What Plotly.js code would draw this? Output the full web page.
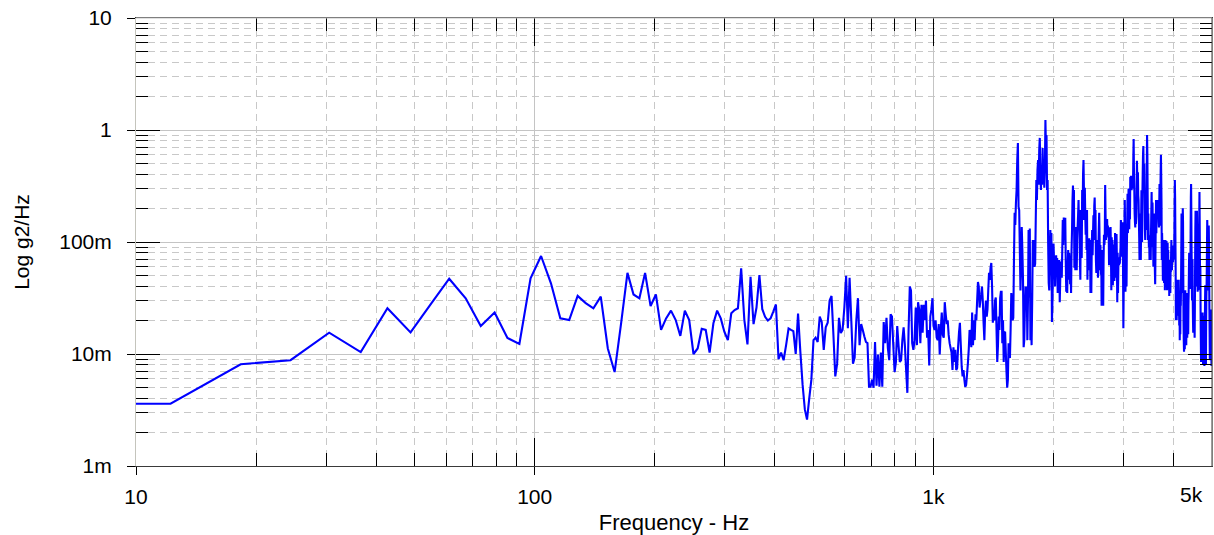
<!DOCTYPE html>
<html>
<head>
<meta charset="utf-8">
<script src="https://cdn.plot.ly/plotly-3.0.1.min.js"></script>
<style>
html,body{margin:0;padding:0;background:#ffffff;}
#chart{width:1214px;height:535px;}
</style>
</head>
<body>
<div id="chart"></div>
<script>
// Spectral bin width (Hz); spectrum values are in milli-g2/Hz (m units)
const binHz = 6.1035;

// bins 1..164 (about 6 Hz .. 1 kHz)
const psdLow = [
  3.6, 3.6, 8.1, 8.8, 15.5, 10.4, 25.6, 15.6, 28, 47,
  31.4, 17.8, 23.5, 13.9, 12.3, 47.4, 75, 42.8, 20.8, 20.1,
  33, 28.5, 25.6, 32.5, 11.2, 6.9, 19, 53, 34, 31.4,
  53, 26.8, 34, 16.4, 20.8, 24.4, 20.1, 14.5, 24.4, 20.1,
  10.0, 11.2, 16.8, 16.4, 10.3, 18.8, 24.4, 20.8, 15.8, 13.3,
  23.1, 24.7, 25.6, 58.2, 20.1, 12.2, 49, 18.5, 26, 50.7,
  25.1, 21.5, 19.9, 20.8, 23.9, 27.7, 9.0, 10.3, 8.8, 12,
  16.9, 16.4, 16, 10.0, 23, 10.5, 5.3, 3.2, 2.6, 4.0,
  5.9, 13.3, 14, 12.8, 21.6, 19.3, 10.9, 17.3, 19, 30,
  33, 14.8, 6.3, 8.2, 21, 15.4, 16.4, 26, 50, 17,
  48, 20, 8.2, 9.3, 20, 31.5, 12, 18.5, 16.4, 14.3,
  12.8, 12.5, 5.1, 5.1, 5.9, 5.0, 12.8, 5.2, 9.9, 5.1,
  10.3, 5.1, 19.3, 12.5, 21, 11.3, 8.8, 22.6, 21.6, 12,
  6.9, 8.5, 17.8, 12, 8.5, 8.8, 13.3, 17.3, 12, 7.2,
  4.5, 16.4, 40, 37, 12.5, 10.9, 13.3, 26, 12, 29,
  25, 12.5, 27.5, 15.5, 27.5, 20, 30, 14, 16.4, 7.9,
  21.6, 25, 31.5, 17.8
];

// bins 165..441 (about 1 kHz .. 2.7 kHz)
const psdMid = [
  16.4, 20, 14, 13.3, 18.5, 9.9, 16.4, 23.5, 14.8, 14,
  29, 22.6, 18.5, 20, 14.8, 12.5, 11.3, 10.3, 7.2, 11.5,
  8.5, 10.9, 7.2, 7.5, 11.5, 15.5, 19, 12, 7.7, 6.3,
  7.2, 5.9, 5.1, 5.3, 6.5, 8.2, 10.9, 16.4, 14.8, 11.5,
  23.5, 12, 20, 13.3, 22.6, 20, 30, 44, 40, 26,
  30, 34, 40, 30, 19, 13.3, 23.5, 30, 21.6, 25,
  37, 53, 46, 59, 65, 40, 19, 23.5, 20, 30,
  32, 16.4, 8.5, 12, 21.6, 16.4, 31.5, 36,
  36, 12.5, 20, 8.5, 15.5, 15.8, 10.3, 6.9, 5.0, 5.9,
  12.5, 11.3, 9.2, 16.4, 35, 30, 20, 21, 69, 182,
  142, 224, 291, 540, 765, 207, 193, 85, 37, 62,
  136, 85, 46, 11.5, 13.3, 25, 40, 30, 40, 13.3,
  30, 128, 32, 132, 13.3, 20, 12, 30, 104, 69,
  104, 60, 64, 157, 358, 237, 440, 540, 325, 663,
  850, 400, 291, 490, 325, 690, 400, 540, 305, 440,
  1228, 663, 900, 291, 358, 97, 43, 37,
  69, 128, 85, 120, 19.3, 30, 56, 97, 69, 72,
  40, 62, 76, 51, 72, 35, 46, 37, 69, 29,
  46, 67, 60, 48, 85, 157, 94, 165, 104, 142,
  165, 69, 36, 56, 35, 60, 85, 46, 80, 69,
  42, 56, 35, 85, 128, 237, 320, 157, 291, 59,
  94, 56, 85, 136, 56, 104, 136, 173, 237, 128,
  193, 69, 46, 193, 104, 72, 291, 157, 400, 540,
  291, 157, 305, 173, 116, 193, 85, 193, 46, 108,
  69, 104, 108, 56, 104, 35, 56, 35, 85, 128,
  76, 116, 173, 104, 210, 250, 142, 193, 69, 53,
  104, 62, 90, 48, 85, 128, 182, 104, 56, 94,
  51, 85, 27, 51, 85, 37, 27, 69, 116, 94,
  108
];

// bins 442..826 (about 2.7 kHz .. 5 kHz)
const psdHigh = [
  323, 174, 104,
  150, 128, 160, 118, 140, 110,
  135, 62, 125, 70, 90,
  136, 80, 37, 110, 60,
  104, 41, 75, 50, 95, 45,
  52, 120, 70, 48, 115,
  118, 65, 29, 80, 35, 60,
  73, 62, 70, 64, 75,
  90, 157, 85, 110, 74, 150,
  120, 60, 17, 40, 95, 140,
  237, 130, 36, 60, 110,
  40, 90, 150, 270, 120, 200,
  300, 180, 130, 250, 160, 380,
  300, 390, 330, 290, 360, 310,
  350, 300, 560, 830, 420, 290,
  180, 150, 135, 200, 145, 170,
  300, 530, 380, 240, 420, 260,
  237, 160, 110, 69, 140, 85, 180,
  69, 150, 290, 200, 100, 260,
  400, 600, 720, 450, 300, 500,
  250, 130, 104, 160, 220, 128, 180,
  400, 900, 600, 250, 104, 180,
  128, 90, 104, 69, 115, 80, 100,
  69, 120, 190, 280, 160, 90,
  225, 140, 100, 60, 130, 75, 180,
  110, 55, 42, 80, 150, 237, 120,
  237, 180, 200, 220, 175, 237, 190,
  150, 135, 210, 330, 250, 140, 280,
  420, 600, 380, 220, 69, 120, 90,
  69, 45, 85, 104, 60, 43, 75,
  95, 37, 60, 104, 80, 50, 100,
  100, 60, 37, 75, 98, 45, 85, 55,
  40, 69, 33, 55, 48, 65, 35,
  60, 54, 80, 104, 70, 56, 90, 85,
  90, 66, 75, 93, 70, 82, 100,
  200, 358, 250, 120, 60, 20, 35, 28,
  20, 30, 46, 24, 38, 22, 33, 41,
  46, 28, 18, 35, 13.3, 22, 15, 30,
  27, 40, 80, 180, 120, 60, 35,
  100, 200, 150, 50, 20, 13, 10.5, 18, 30,
  11, 20, 37, 25, 14, 30, 12, 22,
  35, 20, 14, 26, 18, 34, 15, 28,
  36, 55, 80, 45, 60, 38, 70, 50,
  120, 250, 330, 180, 90, 50, 30, 45, 70,
  30, 20, 15.5, 25, 18, 28, 16, 22,
  14, 25, 60, 130, 190, 100, 45, 70, 40,
  90, 190, 120, 60, 36, 50, 80, 37, 55,
  40, 90, 160, 280, 150, 70, 38, 60,
  24, 14, 8.5, 12, 20, 10, 16, 9, 23,
  23, 13, 8, 17, 11, 22, 9.5, 15, 7.8,
  10, 18, 30, 41, 25, 14, 8, 20, 33,
  40, 60, 100, 157, 120, 75, 50, 37, 65, 90,
  140, 100, 45, 25, 15, 9, 12, 20, 8.8,
  15, 25, 18, 10, 7.8, 14, 22, 9, 12,
  8, 20, 9, 15, 7.5
];

// Axis ticks and labels
const xTickVals = [10, 100, 1000];
const xTickText = ['10', '100', '1k'];
const xEndLabel = '5k';
const xMinorVals = [20, 30, 40, 50, 60, 70, 80, 90, 200, 300, 400, 500, 600, 700, 800, 900, 2000, 3000, 4000];
const yTickVals = [1, 10, 100, 1000, 10000];
const yTickText = ['1m', '10m', '100m', '1', '10'];
const yMinorVals = [2, 3, 4, 5, 6, 7, 8, 9, 20, 30, 40, 50, 60, 70, 80, 90,
  200, 300, 400, 500, 600, 700, 800, 900, 2000, 3000, 4000, 5000, 6000, 7000, 8000, 9000];
const xTitle = 'Frequency - Hz';
const yTitle = 'Log g2/Hz';
const xMin = 10, xMax = 5000;
const yMin = 1, yMax = 10000;

const psd = psdLow.concat(psdMid, psdHigh);
const freq = psd.map((_, i) => (i + 1) * binHz);

const fontFamily = 'Arial, "Liberation Sans", sans-serif';
const tickFont = {family: fontFamily, size: 21, color: '#000000'};
const xRange = [Math.log10(xMin), Math.log10(xMax)];
const yRange = [Math.log10(yMin), Math.log10(yMax)];

const traces = [
  {
    type: 'scatter', mode: 'lines', x: freq, y: psd,
    line: {color: '#0000ff', width: 2.1, simplify: false},
    hoverinfo: 'x+y', showlegend: false
  },
  {
    type: 'scatter', mode: 'lines', x: [], y: [], xaxis: 'x2', yaxis: 'y2',
    hoverinfo: 'skip', showlegend: false
  }
];

const layout = {
  width: 1214, height: 535,
  margin: {l: 136, r: 2, t: 18, b: 69, pad: 0},
  paper_bgcolor: '#ffffff', plot_bgcolor: '#ffffff',
  showlegend: false,
  font: tickFont,
  xaxis: {
    type: 'log', range: xRange, autorange: false,
    tickmode: 'array', tickvals: xTickVals, ticktext: xTickText,
    ticks: 'inside', ticklen: 28, tickwidth: 1, tickcolor: '#000000',
    ticklabelstandoff: 12,
    showline: true, linecolor: '#3a3a3a', linewidth: 1, mirror: 'ticks',
    showgrid: true, gridcolor: '#c4c4c4', gridwidth: 1,
    zeroline: false,
    minor: {tickmode: 'array', tickvals: xMinorVals, ticks: 'inside', ticklen: 13,
            tickwidth: 1, tickcolor: '#000000', showgrid: true,
            gridcolor: '#c8c8c8', gridwidth: 1, griddash: '7px,5px'},
    tickfont: tickFont,
    title: {text: xTitle, font: {family: fontFamily, size: 22, color: '#000000'}, standoff: 7}
  },
  yaxis: {
    type: 'log', range: yRange, autorange: false,
    tickmode: 'array', tickvals: yTickVals, ticktext: yTickText,
    ticks: 'inside', ticklen: 24, tickwidth: 1, tickcolor: '#000000',
    ticklabelstandoff: 19,
    showline: true, linecolor: '#c4c4bc', linewidth: 1, mirror: 'ticks',
    showgrid: true, gridcolor: '#c4c4c4', gridwidth: 1,
    zeroline: false,
    minor: {tickmode: 'array', tickvals: yMinorVals, ticks: 'inside', ticklen: 12,
            tickwidth: 1, tickcolor: '#000000', showgrid: true,
            gridcolor: '#c8c8c8', gridwidth: 1, griddash: '7px,5px'},
    tickfont: tickFont,
    title: {text: yTitle, font: {family: fontFamily, size: 21, color: '#000000'}, standoff: 23}
  },
  xaxis2: {
    type: 'log', range: xRange, autorange: false, overlaying: 'x', anchor: 'y2', side: 'bottom',
    tickmode: 'array', tickvals: xTickVals, ticks: 'outside', ticklen: 8, tickwidth: 1,
    tickcolor: '#000000', showticklabels: false, showgrid: false, showline: false, zeroline: false
  },
  yaxis2: {
    type: 'log', range: yRange, autorange: false, overlaying: 'y', anchor: 'x2', side: 'left',
    tickmode: 'array', tickvals: yTickVals, ticks: 'outside', ticklen: 8, tickwidth: 1,
    tickcolor: '#000000', showticklabels: false, showgrid: false, showline: false, zeroline: false
  },
  shapes: [
    {type: 'line', xref: 'paper', yref: 'paper', x0: 0, x1: 1, y0: 1, y1: 1,
     line: {color: '#c4c4c4', width: 1}},
    {type: 'line', xref: 'paper', yref: 'paper', x0: 1, x1: 1, y0: 0, y1: 1,
     line: {color: '#3a3a3a', width: 1}}
  ],
  annotations: [
    {xref: 'paper', yref: 'paper', x: 0.9935, y: -0.0625, xanchor: 'right', yanchor: 'middle',
     text: xEndLabel, showarrow: false, font: tickFont}
  ]
};

Plotly.newPlot('chart', traces, layout, {displayModeBar: false, staticPlot: true});
</script>
</body>
</html>
